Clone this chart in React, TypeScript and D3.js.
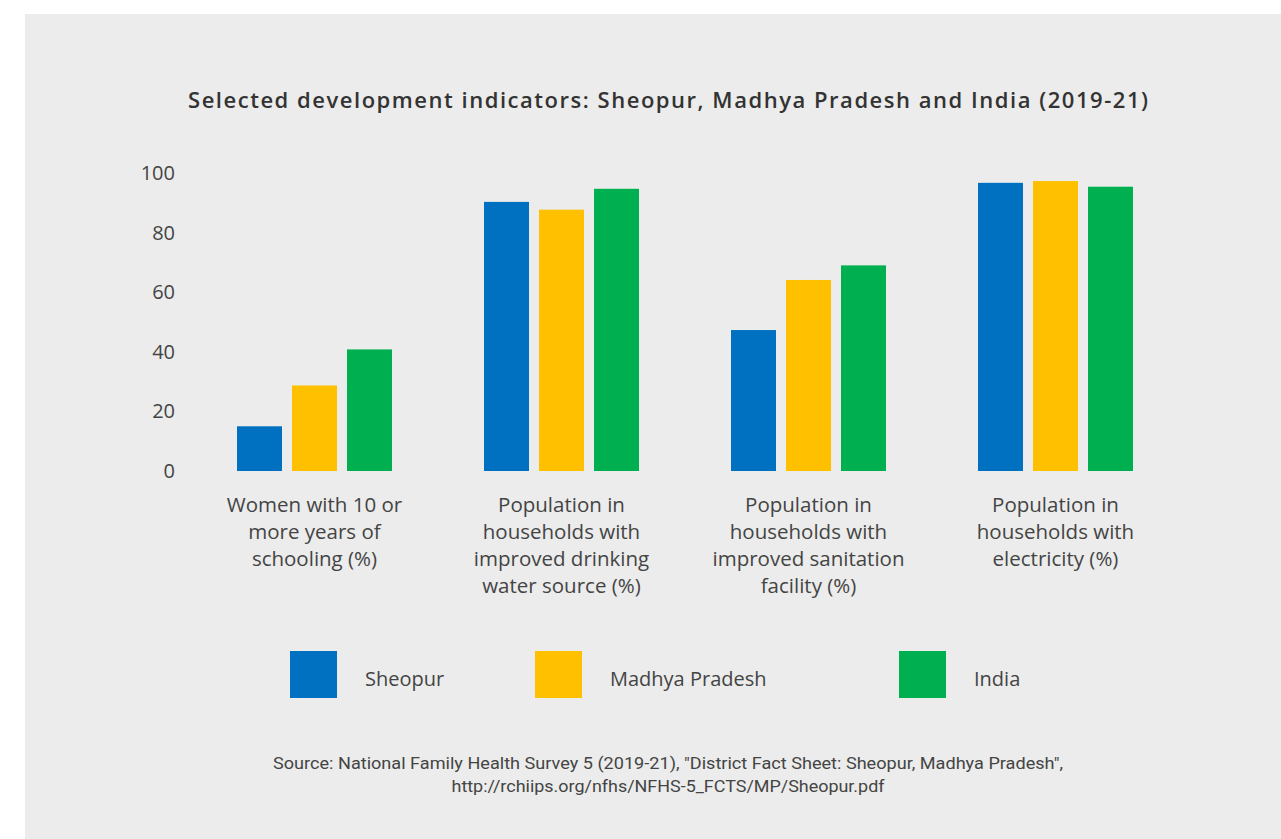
import React from "react";
import * as d3 from "d3";

const categories: string[][] = [
  ["Women with 10 or", "more years of", "schooling (%)"],
  ["Population in", "households with", "improved drinking", "water source (%)"],
  ["Population in", "households with", "improved sanitation", "facility (%)"],
  ["Population in", "households with", "electricity (%)"],
];
const categoryKeys = ["schooling", "water", "sanitation", "electricity"];
const seriesNames = ["Sheopur", "Madhya Pradesh", "India"];
const sheopur = [15.0, 90.3, 47.3, 96.7];
const madhyaPradesh = [28.7, 87.7, 64.1, 97.3];
const india = [40.8, 94.7, 69.0, 95.4];
const seriesValues = [sheopur, madhyaPradesh, india];
const colors = ["#0070C0", "#FFC000", "#00B050"];
const yTicks = [0, 20, 40, 60, 80, 100];

const W = 1281;
const H = 839;

export default function App() {
  const y = d3.scaleLinear().domain([0, 100]).range([471, 173]);
  const x0 = d3.scaleBand<string>().domain(categoryKeys).range([191, 1179]);
  const x1 = d3
    .scaleBand<string>()
    .domain(seriesNames)
    .range([0, 155])
    .paddingInner(10 / 55)
    .paddingOuter(0);
  const groupOffset = (x0.bandwidth() - 155) / 2;
  const legendX = [290, 535, 899];
  const font = "'Open Sans', 'Liberation Sans', sans-serif";
  const srcFont = "'Liberation Sans Narrow', 'Roboto', sans-serif";

  return (
    <svg
      width={W}
      height={H}
      style={{ position: "absolute", left: 0, top: 0, display: "block" }}
    >
      <rect x={0} y={0} width={W} height={H} fill="#ffffff" />
      <rect x={25} y={14} width={W - 25} height={H - 14} fill="#EBECEB" />
      <text
        x={668}
        y={108}
        textAnchor="middle"
        fontFamily={font}
        fontWeight={600}
        fontSize={22}
        textLength={960}
        lengthAdjust="spacing"
        fill="#333333"
      >
        Selected development indicators: Sheopur, Madhya Pradesh and India (2019-21)
      </text>
      {yTicks.map((t) => (
        <text
          key={t}
          x={175}
          y={y(t)}
          dy="0.35em"
          textAnchor="end"
          fontFamily={font}
          fontSize={20}
          fill="#444444"
        >
          {t}
        </text>
      ))}
      {categoryKeys.map((c, ci) => (
        <g key={c} transform={`translate(${(x0(c) ?? 0) + groupOffset},0)`}>
          {seriesNames.map((s, si) => {
            const v = seriesValues[si][ci];
            return (
              <rect
                key={s}
                x={x1(s)}
                y={y(v)}
                width={x1.bandwidth()}
                height={y(0) - y(v)}
                fill={colors[si]}
              />
            );
          })}
        </g>
      ))}
      {categoryKeys.map((c, ci) => (
        <text
          key={c}
          x={(x0(c) ?? 0) + x0.bandwidth() / 2}
          y={512}
          textAnchor="middle"
          fontFamily={font}
          fontSize={20.5}
          fill="#444444"
        >
          {categories[ci].map((line, li) => (
            <tspan key={li} x={(x0(c) ?? 0) + x0.bandwidth() / 2} dy={li === 0 ? 0 : 27}>
              {line}
            </tspan>
          ))}
        </text>
      ))}
      {seriesNames.map((s, si) => (
        <g key={s}>
          <rect x={legendX[si]} y={651} width={47} height={47} fill={colors[si]} />
          <text
            x={legendX[si] + 75}
            y={680}
            dy="0.3em"
            fontFamily={font}
            fontSize={20}
            fill="#444444"
          >
            {s}
          </text>
        </g>
      ))}
      <text
        x={668}
        y={769}
        textAnchor="middle"
        fontFamily={srcFont}
        fontSize={17}
        textLength={790}
        lengthAdjust="spacingAndGlyphs"
        fill="#444444"
      >
        Source: National Family Health Survey 5 (2019-21), "District Fact Sheet: Sheopur, Madhya Pradesh",
      </text>
      <text
        x={668}
        y={792}
        textAnchor="middle"
        fontFamily={srcFont}
        fontSize={17}
        textLength={433}
        lengthAdjust="spacingAndGlyphs"
        fill="#444444"
      >
        http://rchiips.org/nfhs/NFHS-5_FCTS/MP/Sheopur.pdf
      </text>
    </svg>
  );
}
